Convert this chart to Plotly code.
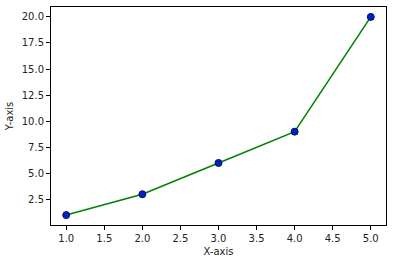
import plotly.graph_objects as go

x_vals = [1, 2, 3, 4, 5]
y_vals = [1, 3, 6, 9, 20]
x_ticks = [1.0, 1.5, 2.0, 2.5, 3.0, 3.5, 4.0, 4.5, 5.0]
y_ticks = [2.5, 5.0, 7.5, 10.0, 12.5, 15.0, 17.5, 20.0]

fig = go.Figure()
fig.add_trace(go.Scatter(
    x=x_vals, y=y_vals, mode="lines+markers",
    line=dict(color="#008000", width=1.5),
    marker=dict(color="#0020c0", size=7, line=dict(color="#00106a", width=1)),
    showlegend=False,
))

axis_common = dict(
    showline=True, linecolor="black", linewidth=1, mirror=True,
    ticks="outside", ticklen=4, tickcolor="black", tickwidth=1,
    showgrid=False, zeroline=False,
    tickfont=dict(family="DejaVu Sans", size=10, color="#222"),
)

fig.update_xaxes(
    range=[0.8, 5.2], tickvals=x_ticks, tickformat=".1f",
    title=dict(text="X-axis", font=dict(family="DejaVu Sans", size=10, color="#222"), standoff=4),
    **axis_common,
)
fig.update_yaxes(
    range=[0.05, 20.95], tickvals=y_ticks, tickformat=".1f",
    title=dict(text="Y-axis", font=dict(family="DejaVu Sans", size=10, color="#222"), standoff=6),
    **axis_common,
)

fig.update_layout(
    width=415, height=265,
    margin=dict(l=51, r=29, t=7, b=40),
    paper_bgcolor="white", plot_bgcolor="white",
)

fig.write_html("out.html")
